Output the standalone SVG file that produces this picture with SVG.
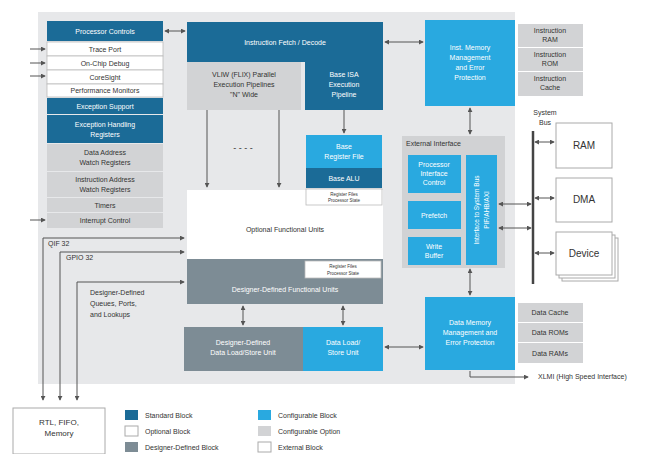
<svg xmlns="http://www.w3.org/2000/svg" width="669" height="454" viewBox="0 0 669 454">
<defs>
<marker id="ah" viewBox="0 0 6 6" refX="5" refY="3" markerWidth="5" markerHeight="5" orient="auto-start-reverse"><path d="M0,0 L6,3 L0,6 z" fill="#555"/></marker>
<style>
text{font-family:"Liberation Sans",Arial,sans-serif;font-size:7px;text-anchor:middle;fill:#333}
.w{fill:#fff}
.l{text-anchor:start}
.sb{fill:#1b6b97}
.cb{fill:#29a9e0}
.co{fill:#d2d3d5}
.db{fill:#7d8c95}
.ob{fill:#fff}
.ex{fill:#fff;stroke:#aaa;stroke-width:1}
.wl{fill:#fff;stroke:#bbb;stroke-width:0.8}
.c{stroke:#555;stroke-width:1;fill:none}
.a2{marker-start:url(#ah);marker-end:url(#ah)}
.a1{marker-end:url(#ah)}
.t{font-size:4.5px}
</style>
</defs>
<rect width="669" height="454" fill="#fff"/>
<rect x="38" y="12" width="477" height="372" fill="#e7e8ea"/>
<g id="left-column">
<g id="processor-controls"><rect class="sb" x="47" y="21" width="116" height="20"/><text class="w" x="105" y="34">Processor  Controls</text></g>
<g id="trace-port"><rect class="wl" x="47" y="42" width="116" height="14"/><text x="105" y="52">Trace Port</text></g>
<g id="on-chip-debug"><rect class="wl" x="47" y="56" width="116" height="14"/><text x="105" y="66">On-Chip Debug</text></g>
<g id="coresight"><rect class="wl" x="47" y="70" width="116" height="14"/><text x="105" y="80">CoreSight</text></g>
<g id="perf-monitors"><rect class="wl" x="47" y="84" width="116" height="13"/><text x="105" y="93">Performance Monitors</text></g>
<g id="exception-support"><rect class="sb" x="47" y="98" width="116" height="16"/><text class="w" x="105" y="109">Exception  Support</text></g>
<g id="exception-regs"><rect class="sb" x="47" y="115" width="116" height="28"/><text class="w" x="105" y="127">Exception  Handling</text><text class="w" x="105" y="137">Registers</text></g>
<g id="data-watch"><rect class="co" x="47" y="144" width="116" height="27"/><text x="105" y="155">Data Address</text><text x="105" y="165">Watch Registers</text></g>
<g id="inst-watch"><rect class="co" x="47" y="172" width="116" height="25"/><text x="105" y="182">Instruction Address</text><text x="105" y="192">Watch Registers</text></g>
<g id="timers"><rect class="co" x="47" y="198" width="116" height="14"/><text x="105" y="208">Timers</text></g>
<g id="interrupt"><rect class="co" x="47" y="213" width="116" height="15"/><text x="105" y="223">Interrupt Control</text></g>
</g>
<g id="fetch-decode"><rect class="sb" x="187" y="22" width="196" height="40"/><text class="w" x="285" y="45">Instruction  Fetch / Decode</text></g>
<g id="vliw"><rect class="co" x="187" y="62" width="114" height="48"/><text x="244" y="77">VLIW (FLIX) Parallel</text><text x="244" y="87">Execution Pipelines</text><text x="244" y="97">"N" Wide</text></g>
<g id="base-isa"><rect class="sb" x="305" y="62" width="78" height="48"/><text class="w" x="344" y="77">Base ISA</text><text class="w" x="344" y="87">Execution</text><text class="w" x="344" y="97">Pipeline</text></g>
<g id="optional-units"><rect class="ob" x="187" y="190" width="196" height="69"/><text x="285" y="232">Optional Functional Units</text></g>
<g id="base-regfile"><rect class="cb" x="306" y="135" width="76" height="33"/><text class="w" x="344" y="149">Base</text><text class="w" x="344" y="159">Register File</text></g>
<g id="base-alu"><rect class="sb" x="306" y="168" width="76" height="20"/><text class="w" x="344" y="181">Base ALU</text></g>
<g id="regfiles-1"><rect class="wl" x="306" y="189" width="76" height="16"/><text class="t" x="344" y="196">Register Files</text><text class="t" x="344" y="202">Processor State</text></g>
<g id="dd-units"><rect class="db" x="187" y="259" width="196" height="45"/><text class="w" x="285" y="292">Designer-Defined Functional Units</text></g>
<g id="regfiles-2"><rect class="wl" x="305" y="261" width="76" height="17"/><text class="t" x="343" y="268">Register Files</text><text class="t" x="343" y="275">Processor State</text></g>
<g id="dd-lsu"><rect class="db" x="184" y="327" width="119" height="44"/><text class="w" x="243" y="345">Designer-Defined</text><text class="w" x="243" y="355">Data Load/Store Unit</text></g>
<g id="lsu"><rect class="cb" x="303" y="327" width="80" height="44"/><text class="w" x="343" y="345">Data Load/</text><text class="w" x="343" y="355">Store Unit</text></g>
<g id="inst-mmu"><rect class="cb" x="425" y="20" width="90" height="86"/><text class="w" x="470" y="50">Inst. Memory</text><text class="w" x="470" y="60">Management</text><text class="w" x="470" y="70">and Error</text><text class="w" x="470" y="80">Protection</text></g>
<g id="inst-ram"><rect class="co" x="518" y="24" width="65" height="23"/><text x="550" y="33">Instruction</text><text x="550" y="42">RAM</text></g>
<g id="inst-rom"><rect class="co" x="518" y="48" width="65" height="23"/><text x="550" y="57">Instruction</text><text x="550" y="66">ROM</text></g>
<g id="inst-cache"><rect class="co" x="518" y="72" width="65" height="24"/><text x="550" y="81">Instruction</text><text x="550" y="90">Cache</text></g>
<g id="ext-if"><rect x="402" y="136" width="103" height="132" fill="#d1d2d4"/><text class="l" x="406" y="146">External Interface</text></g>
<g id="pic"><rect class="cb" x="408" y="155" width="53" height="38"/><text class="w" x="434" y="167">Processor</text><text class="w" x="434" y="176">Interface</text><text class="w" x="434" y="185">Control</text></g>
<g id="prefetch"><rect class="cb" x="408" y="201" width="53" height="28"/><text class="w" x="434" y="218">Prefetch</text></g>
<g id="write-buffer"><rect class="cb" x="408" y="237" width="53" height="28"/><text class="w" x="434" y="249">Write</text><text class="w" x="434" y="258">Buffer</text></g>
<g id="bus-if"><rect class="cb" x="466" y="155" width="31" height="110"/><text class="w" style="font-size:6.5px" transform="translate(479,210) rotate(-90)">Interface to System Bus</text><text class="w" style="font-size:6.5px" transform="translate(489,210) rotate(-90)">PIF/AHB/AXI</text></g>
<g id="data-mmu"><rect class="cb" x="425" y="297" width="90" height="73"/><text class="w" x="470" y="325">Data Memory</text><text class="w" x="470" y="335">Management and</text><text class="w" x="470" y="345">Error Protection</text></g>
<g id="data-cache"><rect class="co" x="518" y="303" width="65" height="19"/><text x="550" y="315">Data Cache</text></g>
<g id="data-roms"><rect class="co" x="518" y="323" width="65" height="19"/><text x="550" y="335">Data ROMs</text></g>
<g id="data-rams"><rect class="co" x="518" y="343" width="65" height="20"/><text x="550" y="356">Data RAMs</text></g>
<g id="system-bus"><line x1="533" y1="131" x2="533" y2="284" stroke="#444" stroke-width="2.5"/><text x="545" y="115">System</text><text x="545" y="125">Bus</text></g>
<g id="ram"><rect class="ex" x="556" y="123" width="56" height="45"/><text x="584" y="149" style="font-size:10px">RAM</text></g>
<g id="dma"><rect class="ex" x="556" y="178" width="56" height="44"/><text x="584" y="203" style="font-size:10px">DMA</text></g>
<g id="device"><rect class="ex" x="562" y="238" width="56" height="43"/><rect class="ex" x="559" y="235" width="56" height="43"/><rect class="ex" x="556" y="232" width="56" height="43"/><text x="584" y="257" style="font-size:10px">Device</text></g>
<g id="rtl"><rect class="ex" x="13" y="408" width="92" height="46"/><text x="59" y="425" style="font-size:8px">RTL, FIFO,</text><text x="59" y="436" style="font-size:8px">Memory</text></g>
<g id="legend">
<rect class="sb" x="125" y="410" width="13" height="10"/><text class="l" x="145" y="418">Standard Block</text>
<rect class="ex" x="125" y="426" width="13" height="10"/><text class="l" x="145" y="434">Optional Block</text>
<rect class="db" x="125" y="442" width="13" height="10"/><text class="l" x="145" y="450">Designer-Defined Block</text>
<rect class="cb" x="258" y="410" width="13" height="10"/><text class="l" x="278" y="418">Configurable Block</text>
<rect class="co" x="258" y="426" width="13" height="10"/><text class="l" x="278" y="434">Configurable Option</text>
<rect class="ex" x="258" y="442" width="13" height="10"/><text class="l" x="278" y="450">External Block</text>
</g>
<g id="connectors">
<line class="c a2" x1="165" y1="31" x2="185" y2="31"/>
<line class="c a1" x1="30" y1="49" x2="45" y2="49"/>
<line class="c a1" x1="30" y1="63" x2="45" y2="63"/>
<line class="c a1" x1="30" y1="76" x2="45" y2="76"/>
<line class="c a1" x1="30" y1="220" x2="45" y2="220"/>
<line class="c a1" x1="207" y1="110" x2="207" y2="187"/>
<line class="c a1" x1="279" y1="110" x2="279" y2="187"/>
<text x="243" y="151" style="font-size:9px">- - - -</text>
<line class="c a1" x1="344" y1="110" x2="344" y2="133"/>
<line class="c a2" x1="385" y1="42" x2="423" y2="42"/>
<line class="c a2" x1="470" y1="108" x2="470" y2="134"/>
<line class="c a2" x1="470" y1="269" x2="470" y2="295"/>
<line class="c a2" x1="499" y1="204" x2="531" y2="204"/>
<line class="c a2" x1="499" y1="228" x2="531" y2="228"/>
<line class="c a2" x1="535" y1="142" x2="554" y2="142"/>
<line class="c a2" x1="535" y1="198" x2="554" y2="198"/>
<line class="c a2" x1="535" y1="253" x2="554" y2="253"/>
<line class="c a2" x1="243" y1="306" x2="243" y2="325"/>
<line class="c a2" x1="343" y1="306" x2="343" y2="325"/>
<line class="c a2" x1="385" y1="347" x2="423" y2="347"/>
<polyline class="c a1" points="470,371 470,377 528,377"/>
<text class="l" x="538" y="379">XLMI (High Speed Interface)</text>
<polyline class="c a2" points="43,400 43,238 184,238"/>
<text class="l" x="48" y="246">QIF 32</text>
<polyline class="c a2" points="60,400 60,252 184,252"/>
<text class="l" x="66" y="260">GPIO  32</text>
<polyline class="c a2" points="77,400 77,282 184,282"/>
<text class="l" x="90" y="295">Designer-Defined</text>
<text class="l" x="90" y="306">Queues, Ports,</text>
<text class="l" x="90" y="317">and Lookups</text>
</g>
</svg>
